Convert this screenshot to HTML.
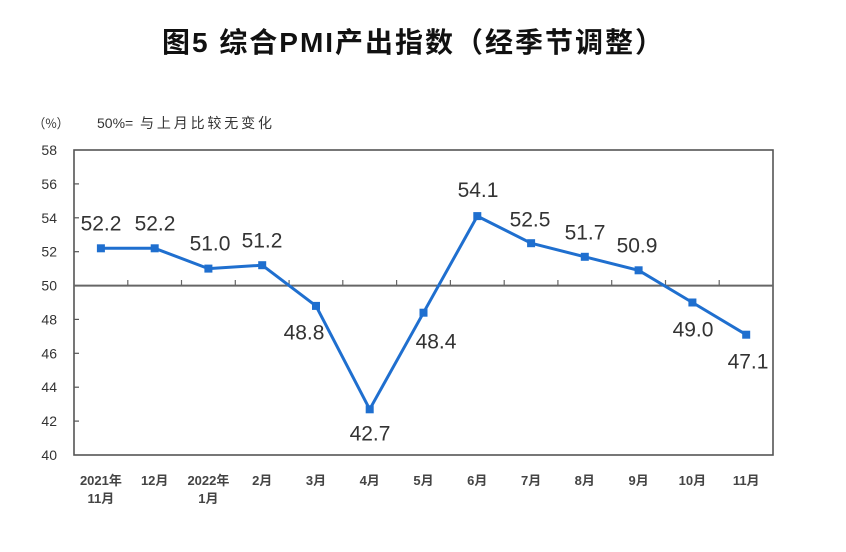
<!DOCTYPE html>
<html>
<head>
<meta charset="utf-8">
<style>
  html,body{margin:0;padding:0;background:#fff;}
  svg{display:block;}
</style>
</head>
<body>
<svg width="846" height="552" viewBox="0 0 846 552" xmlns="http://www.w3.org/2000/svg">
  <rect x="0" y="0" width="846" height="552" fill="#fff"/>
  <!-- Title -->
  <text x="162" y="52" font-family="'Liberation Sans','Noto Sans CJK SC',sans-serif" font-size="28" font-weight="bold" fill="#111" textLength="501" lengthAdjust="spacing">图5 综合PMI产出指数（经季节调整）</text>

  <!-- unit / note -->
  <text x="33" y="128" font-family="'Noto Sans CJK SC',sans-serif" font-size="13" fill="#333" textLength="36" lengthAdjust="spacingAndGlyphs">（%）</text>
  <text x="97" y="128" font-family="'Liberation Sans',sans-serif" font-size="14" fill="#333">50%=</text>
  <text x="140" y="128" font-family="'Noto Sans CJK SC',sans-serif" font-size="14" fill="#333" textLength="132" lengthAdjust="spacing">与上月比较无变化</text>

  <!-- plot frame -->
  <rect x="74" y="150" width="699" height="305" fill="none" stroke="#555" stroke-width="1.6"/>

  <!-- y ticks (inside) -->
  <g stroke="#555" stroke-width="1.2">
    <line x1="74" y1="183.9" x2="79" y2="183.9"/>
    <line x1="74" y1="217.8" x2="79" y2="217.8"/>
    <line x1="74" y1="251.7" x2="79" y2="251.7"/>
    <line x1="74" y1="319.4" x2="79" y2="319.4"/>
    <line x1="74" y1="353.3" x2="79" y2="353.3"/>
    <line x1="74" y1="387.2" x2="79" y2="387.2"/>
    <line x1="74" y1="421.1" x2="79" y2="421.1"/>
  </g>

  <!-- 50 line -->
  <line x1="74" y1="285.6" x2="773" y2="285.6" stroke="#666" stroke-width="2"/>
  <!-- x ticks on 50 line -->
  <g stroke="#666" stroke-width="1.2">
    <line x1="127.8" y1="280" x2="127.8" y2="285.6"/>
    <line x1="181.5" y1="280" x2="181.5" y2="285.6"/>
    <line x1="235.3" y1="280" x2="235.3" y2="285.6"/>
    <line x1="289.1" y1="280" x2="289.1" y2="285.6"/>
    <line x1="342.8" y1="280" x2="342.8" y2="285.6"/>
    <line x1="396.6" y1="280" x2="396.6" y2="285.6"/>
    <line x1="450.4" y1="280" x2="450.4" y2="285.6"/>
    <line x1="504.2" y1="280" x2="504.2" y2="285.6"/>
    <line x1="557.9" y1="280" x2="557.9" y2="285.6"/>
    <line x1="611.7" y1="280" x2="611.7" y2="285.6"/>
    <line x1="665.5" y1="280" x2="665.5" y2="285.6"/>
    <line x1="719.2" y1="280" x2="719.2" y2="285.6"/>
  </g>

  <!-- y tick labels -->
  <g font-family="'Liberation Sans',sans-serif" font-size="14" fill="#333" text-anchor="end">
    <text x="57" y="155">58</text>
    <text x="57" y="188.9">56</text>
    <text x="57" y="222.8">54</text>
    <text x="57" y="256.7">52</text>
    <text x="57" y="290.6">50</text>
    <text x="57" y="324.4">48</text>
    <text x="57" y="358.3">46</text>
    <text x="57" y="392.2">44</text>
    <text x="57" y="426.1">42</text>
    <text x="57" y="460">40</text>
  </g>

  <!-- series -->
  <polyline fill="none" stroke="#1f6fcf" stroke-width="3" stroke-linejoin="round"
    points="100.9,248.3 154.7,248.3 208.4,268.6 262.2,265.2 316.0,305.9 369.7,409.3 423.5,312.7 477.3,216.1 531.1,243.2 584.8,256.8 638.6,270.3 692.4,302.5 746.2,334.7"/>
  <g fill="#1f6fcf">
    <rect x="96.9" y="244.3" width="8" height="8"/>
    <rect x="150.7" y="244.3" width="8" height="8"/>
    <rect x="204.4" y="264.6" width="8" height="8"/>
    <rect x="258.2" y="261.2" width="8" height="8"/>
    <rect x="312.0" y="301.9" width="8" height="8"/>
    <rect x="365.7" y="405.3" width="8" height="8"/>
    <rect x="419.5" y="308.7" width="8" height="8"/>
    <rect x="473.3" y="212.1" width="8" height="8"/>
    <rect x="527.1" y="239.2" width="8" height="8"/>
    <rect x="580.8" y="252.8" width="8" height="8"/>
    <rect x="634.6" y="266.3" width="8" height="8"/>
    <rect x="688.4" y="298.5" width="8" height="8"/>
    <rect x="742.2" y="330.7" width="8" height="8"/>
  </g>

  <!-- data labels -->
  <g font-family="'Liberation Sans',sans-serif" font-size="21" fill="#333" text-anchor="middle">
    <text x="101" y="230.5">52.2</text>
    <text x="155" y="230.5">52.2</text>
    <text x="210" y="250.5">51.0</text>
    <text x="262" y="247.5">51.2</text>
    <text x="304" y="339.5">48.8</text>
    <text x="370" y="440.5">42.7</text>
    <text x="436" y="348.5">48.4</text>
    <text x="478" y="197">54.1</text>
    <text x="530" y="226.5">52.5</text>
    <text x="585" y="239.5">51.7</text>
    <text x="637" y="252.5">50.9</text>
    <text x="693" y="336.5">49.0</text>
    <text x="748" y="368.5">47.1</text>
  </g>

  <!-- x labels -->
  <g font-family="'Liberation Sans','Noto Sans CJK SC',sans-serif" font-size="13" font-weight="bold" fill="#444" text-anchor="middle">
    <text x="100.9" y="485">2021年</text>
    <text x="100.9" y="503">11月</text>
    <text x="154.7" y="485">12月</text>
    <text x="208.4" y="485">2022年</text>
    <text x="208.4" y="503">1月</text>
    <text x="262.2" y="485">2月</text>
    <text x="316.0" y="485">3月</text>
    <text x="369.7" y="485">4月</text>
    <text x="423.5" y="485">5月</text>
    <text x="477.3" y="485">6月</text>
    <text x="531.1" y="485">7月</text>
    <text x="584.8" y="485">8月</text>
    <text x="638.6" y="485">9月</text>
    <text x="692.4" y="485">10月</text>
    <text x="746.2" y="485">11月</text>
  </g>
</svg>
</body>
</html>
